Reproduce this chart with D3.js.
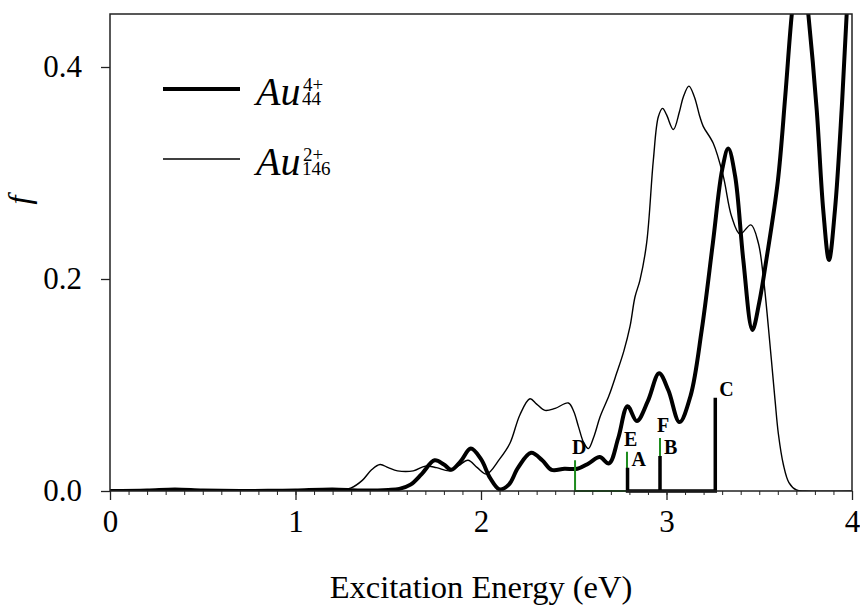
<!DOCTYPE html>
<html>
<head>
<meta charset="utf-8">
<script src="https://cdn.jsdelivr.net/npm/d3@7"></script>
<style>
  html, body { margin: 0; padding: 0; background: #fff; }
  svg { display: block; }
</style>
</head>
<body>
<svg id="chart" width="860" height="609"></svg>
<script>
// ---------------- data ----------------
const au44E = [0.0, 0.2, 0.35, 0.5, 0.7, 0.9, 1.0, 1.2, 1.35, 1.5, 1.56, 1.62, 1.68, 1.75, 1.80, 1.84, 1.89, 1.945, 2.0, 2.05, 2.10, 2.15, 2.20, 2.27, 2.33, 2.38, 2.45, 2.52, 2.58, 2.64, 2.69, 2.74, 2.79, 2.84, 2.90, 2.96, 3.01, 3.07, 3.13, 3.19, 3.25, 3.30, 3.333, 3.37, 3.414, 3.463, 3.50, 3.54, 3.60, 3.64, 3.675, 3.72, 3.765, 3.81, 3.845, 3.876, 3.908, 3.944, 3.971, 4.0];
const au44F = [0.000, 0.0005, 0.0015, 0.0005, 0.000, 0.0003, 0.0005, 0.0015, 0.0005, 0.001, 0.002, 0.006, 0.016, 0.029, 0.025, 0.020, 0.028, 0.040, 0.030, 0.012, 0.0015, 0.006, 0.022, 0.036, 0.029, 0.020, 0.021, 0.021, 0.026, 0.032, 0.026, 0.050, 0.080, 0.066, 0.085, 0.111, 0.095, 0.065, 0.090, 0.152, 0.234, 0.303, 0.323, 0.297, 0.218, 0.152, 0.178, 0.220, 0.292, 0.372, 0.449, 0.520, 0.449, 0.359, 0.265, 0.218, 0.265, 0.359, 0.449, 0.530];

const au146E = [0.0, 0.3, 0.6, 1.0, 1.2, 1.30, 1.36, 1.41, 1.456, 1.50, 1.55, 1.635, 1.70, 1.76, 1.83, 1.88, 1.93, 1.98, 2.03, 2.10, 2.156, 2.21, 2.264, 2.30, 2.345, 2.40, 2.471, 2.50, 2.525, 2.555, 2.579, 2.61, 2.642, 2.69, 2.731, 2.77, 2.803, 2.83, 2.857, 2.893, 2.929, 2.956, 2.979, 3.00, 3.037, 3.07, 3.091, 3.121, 3.15, 3.18, 3.198, 3.252, 3.306, 3.351, 3.396, 3.455, 3.495, 3.522, 3.549, 3.585, 3.603, 3.63, 3.66, 3.70, 3.75, 4.0];
const au146F = [0.000, 0.0005, 0.000, 0.0005, 0.001, 0.003, 0.010, 0.020, 0.025, 0.022, 0.019, 0.019, 0.0235, 0.022, 0.019, 0.024, 0.029, 0.022, 0.016, 0.030, 0.045, 0.072, 0.087, 0.082, 0.076, 0.078, 0.083, 0.075, 0.061, 0.045, 0.040, 0.052, 0.070, 0.090, 0.111, 0.132, 0.155, 0.183, 0.199, 0.234, 0.312, 0.353, 0.361, 0.355, 0.341, 0.358, 0.372, 0.382, 0.372, 0.353, 0.344, 0.328, 0.297, 0.259, 0.2425, 0.251, 0.234, 0.202, 0.155, 0.086, 0.054, 0.025, 0.008, 0.001, 0.000, 0.000];

const blackStickE = [2.79, 2.965, 3.263];
const blackStickF = [0.022, 0.033, 0.088];
const blackStickLabels = ["A", "B", "C"];
const greenStickE = [2.507, 2.787, 2.965];
const greenStickF = [0.029, 0.037, 0.050];
const greenStickLabels = ["D", "E", "F"];

const xTicks = [0, 1, 2, 3, 4];
const yTicks = [0.0, 0.2, 0.4];
const xLabel = "Excitation Energy (eV)";
const yLabel = "f";
const legendBase = ["Au", "Au"];
const legendSup = ["4+", "2+"];
const legendSub = ["44", "146"];

// ---------------- layout ----------------
const svg = d3.select("#chart");
const M = { left: 110, right: 852, top: 14, bottom: 491 };
const x = d3.scaleLinear().domain([0, 4]).range([M.left, M.right]);
const y = d3.scaleLinear().domain([0, 0.45]).range([M.bottom, M.top]);
const serif = "'Liberation Serif', 'Times New Roman', serif";
const axisColor = "#222";

svg.append("defs").append("clipPath").attr("id", "clip")
  .append("rect").attr("x", M.left).attr("y", M.top)
  .attr("width", M.right - M.left).attr("height", M.bottom - M.top);

// curves
const line = d3.line().x(d => x(d[0])).y(d => y(d[1])).curve(d3.curveCatmullRom.alpha(0.5));
const g = svg.append("g").attr("clip-path", "url(#clip)");

g.append("path").datum(d3.zip(au146E, au146F))
  .attr("d", line).attr("fill", "none").attr("stroke", "#000").attr("stroke-width", 1.4);
g.append("path").datum(d3.zip(au44E, au44F))
  .attr("d", line).attr("fill", "none").attr("stroke", "#000").attr("stroke-width", 4);

// stick spectra (polyline through the baseline)
function stickPts(es, fs) {
  const pts = [];
  es.forEach((e, i) => { pts.push([e, 0], [e, fs[i]], [e, 0]); });
  return pts;
}
const lin = d3.line().x(d => x(d[0])).y(d => y(d[1]));
svg.append("path").datum(stickPts(greenStickE, greenStickF))
  .attr("d", lin).attr("fill", "none").attr("stroke", "#1e8c1e").attr("stroke-width", 2);
svg.append("path").datum(stickPts(blackStickE, blackStickF))
  .attr("d", lin).attr("fill", "none").attr("stroke", "#000").attr("stroke-width", 3.5);

// stick labels
greenStickE.forEach((e, i) => {
  svg.append("text").attr("x", x(e) - 3).attr("y", y(greenStickF[i]) - 6)
    .attr("font-family", serif).attr("font-weight", "bold").attr("font-size", 20)
    .text(greenStickLabels[i]);
});
blackStickE.forEach((e, i) => {
  svg.append("text").attr("x", x(e) + 4).attr("y", y(blackStickF[i]) - 2)
    .attr("font-family", serif).attr("font-weight", "bold").attr("font-size", 20)
    .text(blackStickLabels[i]);
});

// axes
const xAxis = svg.append("g").attr("transform", `translate(0,${M.bottom})`)
  .call(d3.axisBottom(x).tickValues(d3.range(0, 40.5, 1).map(d => d / 10)).tickSize(4).tickFormat(""));
xAxis.select(".domain").remove();
xAxis.selectAll("line").attr("stroke", axisColor).attr("stroke-width", 1);

const xMajor = svg.append("g").attr("transform", `translate(0,${M.bottom})`)
  .call(d3.axisBottom(x).tickValues(xTicks).tickSize(9).tickPadding(10).tickFormat(d3.format("d")));
xMajor.select(".domain").remove();
xMajor.selectAll("line").attr("stroke", axisColor).attr("stroke-width", 1.3);
xMajor.selectAll("text").attr("font-family", serif).attr("font-size", 31).attr("fill", "#000");

const yAxis = svg.append("g").attr("transform", `translate(${M.left},0)`)
  .call(d3.axisLeft(y).tickValues(yTicks).tickSize(9).tickPadding(19).tickFormat(d3.format(".1f")));
yAxis.select(".domain").remove();
yAxis.selectAll("line").attr("stroke", axisColor).attr("stroke-width", 1.3);
yAxis.selectAll("text").attr("font-family", serif).attr("font-size", 31).attr("fill", "#000");

// frame
svg.append("rect").attr("x", M.left).attr("y", M.top)
  .attr("width", M.right - M.left).attr("height", M.bottom - M.top)
  .attr("fill", "none").attr("stroke", axisColor).attr("stroke-width", 1.5);

// axis titles
svg.append("text").attr("x", (M.left + M.right) / 2).attr("y", 598)
  .attr("text-anchor", "middle").attr("font-family", serif).attr("font-size", 32.5)
  .text(xLabel);
svg.append("text").attr("transform", "translate(30,200) rotate(-90)")
  .attr("text-anchor", "middle").attr("font-family", serif).attr("font-style", "italic")
  .attr("font-size", 32).text(yLabel);

// legend
const legendStyle = [{ w: 4, ly: 89, ty: 105 }, { w: 1.4, ly: 159, ty: 175 }];
legendStyle.forEach((l, i) => {
  svg.append("line").attr("x1", 163).attr("x2", 240).attr("y1", l.ly).attr("y2", l.ly)
    .attr("stroke", "#000").attr("stroke-width", l.w);
  const t = svg.append("text").attr("x", 256).attr("y", l.ty).attr("font-family", serif);
  t.append("tspan").attr("font-style", "italic").attr("font-size", 40).text(legendBase[i]);
  t.append("tspan").attr("x", 303).attr("y", l.ty - 14).attr("font-size", 19).text(legendSup[i]);
  t.append("tspan").attr("x", 302).attr("y", l.ty).attr("font-size", 19).text(legendSub[i]);
});
</script>
</body>
</html>
